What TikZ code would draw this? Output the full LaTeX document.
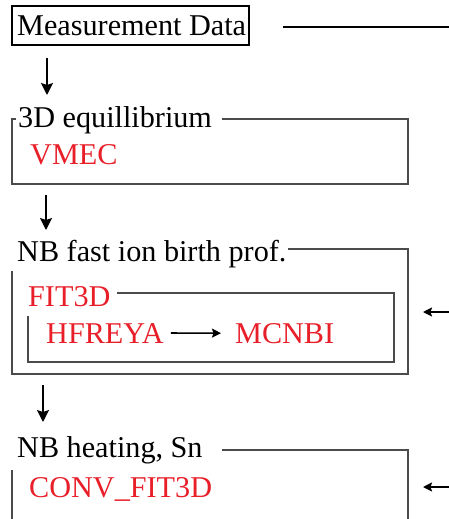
\documentclass[tikz,border=0pt]{standalone}
\usepackage{fontspec}
\setmainfont{Liberation Serif}
\usetikzlibrary{arrows.meta}
\definecolor{codered}{RGB}{232,30,40}
\definecolor{framegray}{RGB}{75,75,75}
\begin{document}
\begin{tikzpicture}[x=1pt,y=-1pt,
  txt/.style={anchor=base west, inner sep=0pt, font=\fontsize{30.2}{36}\selectfont},
  code/.style={txt, text=codered},
  frame/.style={draw=framegray, line width=1.1pt},
  flow/.style={draw=black, line width=1.7pt, -{Stealth[length=12pt,width=12pt,inset=2pt]}},
  feed/.style={draw=black, line width=1.6pt, -{Stealth[length=9pt,width=9pt,inset=1.5pt]}}]
\useasboundingbox (0,0) rectangle (449,519);

% input block
\node[txt] (meas) at (17,36) {Measurement Data};
\draw[draw=black, line width=1.1pt] (12,6) rectangle (249,45);
\coordinate (measout) at (283,27);
\coordinate (measedge) at (449,27);
\draw[black, line width=1.5pt] (measout) -- (measedge);

% equilibrium block
\node[txt] (equil) at (18,127) {3D equillibrium};
\node[code] (vmec) at (30,164) {VMEC};
\draw[frame] (16,119) -- (12,119) -- (12,184) -- (408,184) -- (408,119) -- (222,119);

% birth profile block
\node[txt] (birth) at (17,261) {NB fast ion birth prof.};
\draw[frame] (288,249) -- (408,249) -- (408,374) -- (12,374) -- (12,271);
\node[code] (fit) at (28,306) {FIT3D};
\draw[frame] (117,293) -- (394,293) -- (394,362) -- (28,362) -- (28,316);
\node[code] (hfreya) at (46,343) {HFREYA};
\node[code] (mcnbi) at (235,343) {MCNBI};
\draw[feed] ([xshift=7pt]hfreya.east) -- ([xshift=-14pt]mcnbi.west);

% heating block
\node[txt] (heat) at (17,457) {NB heating, Sn};
\node[code] (conv) at (29,497) {CONV\_FIT3D};
\draw[frame] (222,450) -- (408,450) -- (408,519);
\draw[frame] (12,470) -- (12,519);

% vertical flow between blocks
\coordinate (f1a) at (47,58);  \coordinate (f1b) at (47,95);
\coordinate (f2a) at (46,195); \coordinate (f2b) at (46,230);
\coordinate (f3a) at (43,385); \coordinate (f3b) at (43,422);
\draw[flow] (f1a) -- (f1b);
\draw[flow] (f2a) -- (f2b);
\draw[flow] (f3a) -- (f3b);

% feedback inputs from the right
\coordinate (in1) at (449,312); \coordinate (in1e) at (423,312);
\coordinate (in2) at (449,487); \coordinate (in2e) at (423,487);
\draw[feed] (in1) -- (in1e);
\draw[feed] (in2) -- (in2e);
\end{tikzpicture}
\end{document}
